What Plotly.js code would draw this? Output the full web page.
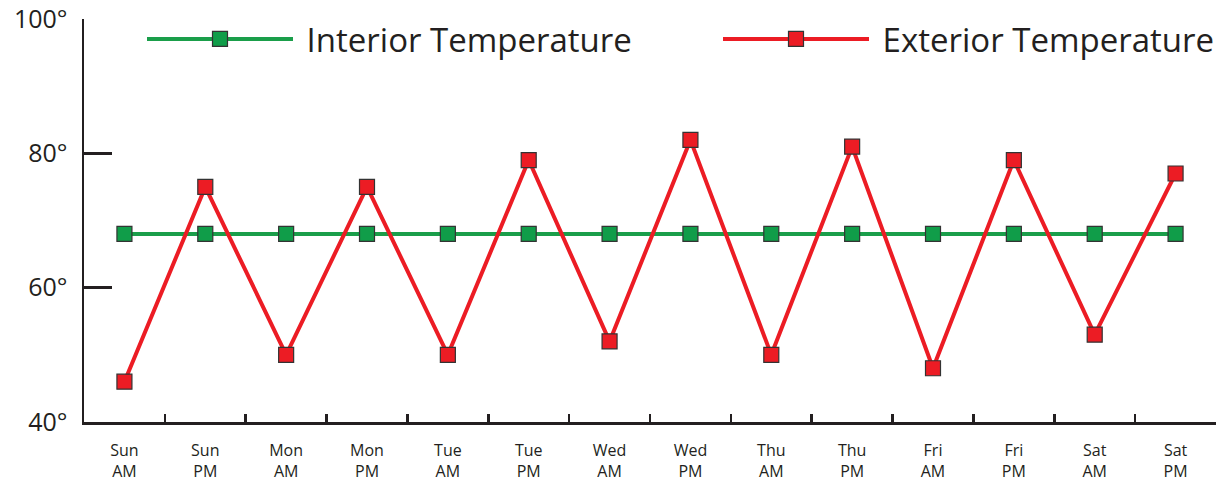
<!DOCTYPE html>
<html>
<head>
<meta charset="utf-8">
<script src="https://cdn.plot.ly/plotly-3.0.1.min.js"></script>
<style>html,body{margin:0;padding:0;background:#fff;}#chart{width:1221px;height:484px;}</style>
</head>
<body>
<div id="chart"></div>
<script>
var categories = ["Sun<br>AM","Sun<br>PM","Mon<br>AM","Mon<br>PM","Tue<br>AM","Tue<br>PM","Wed<br>AM","Wed<br>PM","Thu<br>AM","Thu<br>PM","Fri<br>AM","Fri<br>PM","Sat<br>AM","Sat<br>PM"];
var interiorTemp = [68,68,68,68,68,68,68,68,68,68,68,68,68,68];
var exteriorTemp = [46,75,50,75,50,79,52,82,50,81,48,79,53,77];
var yTickVals = [40,60,80,100];
var yTickText = ["40°","60°","80°","100°"];

var ink = "#231f20";
var font = "Open Sans, Noto Sans, sans-serif";

var traces = [
  {
    x: categories, y: interiorTemp, name: "\u00A0Interior Temperature", type: "scatter", mode: "lines+markers",
    line: {color: "#1a9e4a", width: 4},
    marker: {symbol: "square", size: 15, color: "#109d49", line: {color: "#333333", width: 1.2}},
    cliponaxis: false, legend: "legend"
  },
  {
    x: categories, y: exteriorTemp, name: "\u00A0Exterior Temperature", type: "scatter", mode: "lines+markers",
    line: {color: "#ec1c24", width: 4},
    marker: {symbol: "square", size: 15, color: "#ec1c24", line: {color: "#333333", width: 1.2}},
    cliponaxis: false, legend: "legend2"
  }
];

var legendCommon = {
  orientation: "h", xref: "container", yref: "container", xanchor: "left", yanchor: "middle",
  font: {family: font, size: 33, color: ink}, bgcolor: "rgba(0,0,0,0)", itemwidth: 146
};

var layout = {
  width: 1221, height: 484,
  margin: {l: 84, r: 5, t: 19, b: 62, autoexpand: false},
  paper_bgcolor: "#ffffff", plot_bgcolor: "#ffffff",
  showlegend: true,
  legend: Object.assign({}, legendCommon, {x: 142/1221, y: 1 - 39/484}),
  legend2: Object.assign({}, legendCommon, {x: 718/1221, y: 1 - 39/484}),
  xaxis: {
    type: "category", range: [-0.5, 13.5], showline: true, linecolor: ink, linewidth: 2.5,
    ticks: "inside", ticklen: 8, tickwidth: 2.5, tickcolor: ink, tickson: "boundaries",
    showgrid: false, zeroline: false, fixedrange: true, automargin: false,
    tickfont: {family: font, size: 16, color: ink}, ticklabelstandoff: 12
  },
  yaxis: {
    range: [40, 100], tickvals: yTickVals, ticktext: yTickText, showline: true, linecolor: ink, linewidth: 2.5,
    ticks: "inside", ticklen: 28, tickwidth: 2.5, tickcolor: ink,
    showgrid: false, zeroline: false, fixedrange: true, automargin: false,
    tickfont: {family: font, size: 25, color: ink}, ticklabelstandoff: 9
  }
};

Plotly.newPlot("chart", traces, layout, {displayModeBar: false, staticPlot: true});
</script>
</body>
</html>
